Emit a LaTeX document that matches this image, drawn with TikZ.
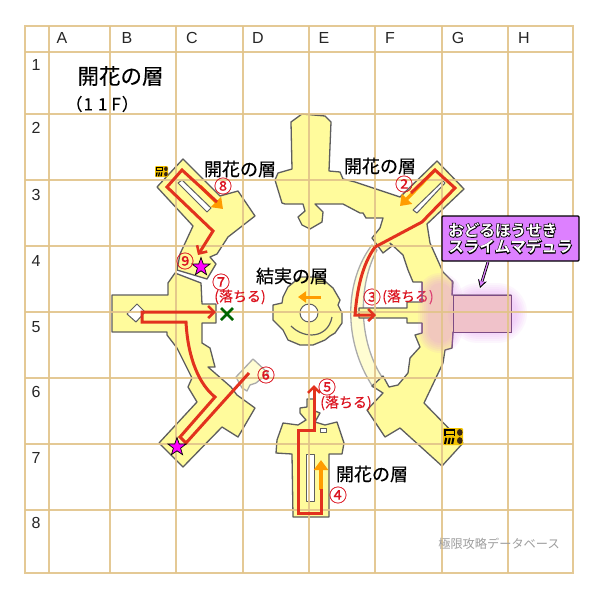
\documentclass[tikz,border=0pt]{standalone}
\usepackage{fontspec}
\setmainfont[FakeBold=0.35]{Noto Sans CJK JP}
\newfontfamily\latinf{Liberation Sans}
\newfontfamily\lightface{Noto Sans CJK JP}
\newfontfamily\heavyface{Noto Sans CJK JP Bold}
\newfontfamily\haloface[FakeBold=9]{Noto Sans CJK JP Bold}
\usetikzlibrary{arrows.meta,shapes.geometric}
\definecolor{gridc}{HTML}{E2C48A}
\definecolor{roomc}{HTML}{FFFB9C}
\definecolor{edgec}{HTML}{5E5E5E}
\definecolor{redc}{HTML}{E2321E}
\definecolor{labelred}{HTML}{DC1420}
\definecolor{orangec}{HTML}{FF9C00}
\definecolor{glowc}{HTML}{E288F0}
\definecolor{pinkc}{HTML}{F0C2CA}
\definecolor{calloutc}{HTML}{DD80FF}
\definecolor{goldc}{HTML}{F2C200}
\definecolor{starc}{HTML}{FF00FF}
\tikzset{
  room/.style={fill=roomc,draw=edgec,line width=1.3pt,line join=round},
  faded/.style={fill=roomc!45,draw=black!33,line width=1.3pt,line join=round},
  slit/.style={fill=white,draw=edgec,line width=1pt,line join=round},
  gridline/.style={gridc,line width=1.8pt,opacity=.9},
  route/.style={redc,line width=3pt,line join=miter},
  routearrow/.style={route,-{Straight Barb[length=6pt,width=12pt,line width=2.6pt]}},
  flow/.style={orangec,line width=3.4pt,-{Triangle[length=10pt,width=14pt]}},
  floorlabel/.style={font=\fontsize{18}{18}\selectfont,inner sep=0},
  numlabel/.style={text=labelred,font=\fontsize{18}{18}\selectfont,inner sep=0},
  falllabel/.style={text=labelred,font=\fontsize{14}{14}\selectfont,inner sep=0},
  gridlabel/.style={font=\latinf\fontsize{16}{16}\selectfont,text=black!85,inner sep=0},
  starmark/.style={star,star points=5,star point ratio=2.5,draw=black,fill=starc,line width=.7pt,minimum size=19pt,inner sep=0},
}
\newcommand{\chestmark}[5]{% x y w h name
  \begin{scope}[shift={(#1,#2)},x=#3pt,y=#4pt]
    \fill[goldc,rounded corners=1pt] (0,0) rectangle (1,1);
    \foreach \sx in {.1,.28,.46}{\draw[black,line width=#3*.1pt] (\sx,.06) -- (\sx+.06,.42);}
    \draw[black,line width=#3*.08pt] (.1,.55) -- (.1,.9) -- (.58,.9) -- (.58,.55) (.1,.62) -- (.58,.62);
    \fill[black!70!brown] (.84,.26) ellipse (.14 and .2) (.84,.74) ellipse (.14 and .2);
  \end{scope}}
\begin{document}
\begin{tikzpicture}[x=1pt,y=-1pt]
\useasboundingbox (0,0) rectangle (600,600);
\fill[white] (0,0) rectangle (600,600);

% pale bridge on the east side
\path[faded] (372,245) .. controls (345,280) and (342,340) .. (373,387)
  -- (382,377) .. controls (358,340) and (358,285) .. (377,250) -- cycle;

% north / east room
\path[room] (302,114)--(325,116)--(331,122)--(329,171)--(340,172)--(343,179)--(355,182)--(373,188)--(400,197)--(437,161)--(464,189)--(427,224)--(430,243)--(443,272)--(453,282)--(452,295)--(511,295)--(511,332)--(453,332)--(452,348)--(445,350)--(443,363)--(424,403)--(463,443)--(442,466)--(400,428)--(385,437)--(367,410)--(383,393)--(372,386)--(383,376)--(389,387)--(398,385)--(408,373)--(410,358)--(420,347)--(415,335)--(422,333)--(422,323)--(407,323)--(407,318)--(359,318)--(359,308)--(407,308)--(407,302)--(422,302)--(422,282)--(413,282)--(408,270)--(403,255)--(390,243)--(392,246)--(383,253)--(372,238)--(380,228)--(383,218)--(366,218)--(363,213)--(360,213)--(343,204)--(315,204)--(323,212)--(322,222)--(310,229)--(302,225)--(298,217)--(305,211)--(303,204)--(285,204)--(282,203)--(275,180)--(278,173)--(292,169)--(291,122)--cycle;
\path[slit] (413,210)--(443,181)--(445,183)--(417,213)--cycle;

% north-west wing
\path[room] (183,159)--(220,196)--(238,191)--(255,216)--(228,237)--(217,254)--(210,257)--(216,264)--(207,279)--(177,270)--(180,254)--(193,226)--(157,187)--cycle;
\path[slit] (178,183)--(182,180)--(211,208)--(207,212)--cycle;

% west wing
\path[room] (112,295)--(168,295)--(168,283)--(175,273)--(201,283)--(202,304)--(209,304)--(216,304)--(216,323)--(202,323)--(202,343)--(210,348)--(215,367)--(208,367)--(231,387)--(237,395)--(255,408)--(238,437)--(222,427)--(183,467)--(159,443)--(197,402)--(188,387)--(192,378)--(177,348)--(167,335)--(167,332)--(112,332)--cycle;
\path[slit] (127,314)--(137,304)--(145,312)--(136,322)--cycle;
\path[faded] (236,377)--(253,359)--(268,373)--(256,383)--(250,385)--(247,391)--(242,388)--cycle;

% centre room
\path[room] (283,297)--(288,287)--(300,277)--(320,277)--(333,288)--(340,300)--(338,305)--(342,313)--(342,323)--(335,333)--(330,336)--(325,340)--(313,345)--(300,345)--(288,340)--(283,330)--(278,325)--(273,320)--(273,305)--(282,303)--cycle;
\path[slit] (309,313) circle (9);
\draw[edgec,line width=1.2pt] (291,326) .. controls (305,340) and (328,338) .. (332,317);

% south room
\path[room] (307,399)--(315,399)--(315,411)--(320,413)--(315,422)--(325,425)--(337,422)--(344,443)--(342,454)--(329,454)--(329,517)--(293,517)--(292,454)--(276,453)--(277,440)--(283,423)--(298,425)--(306,420)--(300,413)--(300,408)--(307,407)--cycle;
\path[slit] (320,428) rectangle (326,432);
\path[slit] (306,454) rectangle (314,501);

% labels that lie under the glow
\node[numlabel] (n3) at (372,297) {③};
\node[falllabel] (f3) at (408,297) {(落ちる)};

% glow of the boss room
\foreach \w in {24,28,32,36,40,44}{
  \draw[glowc,opacity=.085,line width=\w pt,line cap=round,line join=round] (440,295)--(440,331);
  \draw[glowc,opacity=.07,line width=\w pt+16pt,line cap=round] (478,313)--(497,313);
}
\path[draw=black!45!glowc,fill=pinkc,line width=1pt] (453,295) rectangle (511,332);
\draw[black!40!glowc,line width=1pt] (452,280)--(452,295) (453,332)--(452,348) (422,302)--(422,282) (422,323)--(422,333);

% grid
\draw[gridline] (25,26) rectangle (573,573);
\foreach \gx in {49,110,176,243,309,375,442,508}{\draw[gridline] (\gx,26) -- (\gx,573);}
\foreach \gy in {52,114,180,246,312,378,444,510}{\draw[gridline] (25,\gy) -- (573,\gy);}
\foreach \lab/\px in {A/62,B/127,C/192,D/258,E/324,F/390,G/458,H/524}{\node[gridlabel] at (\px,38) {\lab};}
\foreach \lab/\py in {1/65,2/128,3/195,4/261,5/327,6/392,7/458,8/523}{\node[gridlabel] at (36,\py) {\lab};}

% flow arrows
\draw[flow] (200,186) -- (223,209);
\draw[flow] (435,170) -- (400,206);
\draw[flow] (321,490) -- (321,460);
\draw[orangec,line width=3pt,-{Triangle[length=8pt,width=11pt]}] (321,297) -- (298,297);

% routes
\draw[routearrow] (217,202) -- (182,170) -- (167,187) -- (213,231) -- (198,255);
\draw[route] (411,193) -- (435,170) -- (455,188) -- (422,222) -- (375,247);
\draw[routearrow] (375,247) .. controls (362,265) and (357,290) .. (355,315) -- (376,315);
\draw[routearrow] (321,489) -- (321,513) -- (298,513) -- (298,430) -- (314,430) -- (314,385);
\draw[routearrow] (249,373) -- (186,443) -- (180,437) -- (215,397) .. controls (200,385) and (188,360) .. (186,322) -- (142,322) -- (142,312) -- (216,312);

% marks
\node[starmark] (s1) at (201,267) {};
\node[starmark] (s2) at (177,447) {};
\draw[green!40!black,line width=2.6pt] (221,308) -- (233,320) (233,308) -- (221,320);
\chestmark{155}{177}{13}{11}{c1}
\chestmark{443}{445}{20}{17}{c2}

% texts
\node[inner sep=0,font=\fontsize{21.5}{21.5}\selectfont] (title) at (120.5,76) {開花の層};
\node[inner sep=0,anchor=east,font=\fontsize{17}{17}\selectfont] (floor) at (139,104) {（\kern1pt 1\kern5pt 1\kern4pt F\kern1pt）};
\node[floorlabel] (fl1) at (240,169) {開花の層};
\node[floorlabel] (fl2) at (380,166) {開花の層};
\node[floorlabel] (fl3) at (372,474) {開花の層};
\node[floorlabel] (fl4) at (292,276) {結実の層};
\node[numlabel] (n2) at (404,184) {②};
\node[numlabel] (n4) at (338,495) {④};
\node[numlabel] (n5) at (327,387) {⑤};
\node[numlabel] (n6) at (266,375) {⑥};
\node[numlabel] (n7) at (221,282) {⑦};
\node[numlabel] (n8) at (223,186) {⑧};
\node[numlabel] (n9) at (185,261) {⑨};
\node[falllabel] (f7) at (240,297) {(落ちる)};
\node[falllabel] (f5) at (346,403) {(落ちる)};
\node[inner sep=0,text=black!38,font=\lightface\fontsize{12.2}{12.2}\selectfont] (wm) at (499,544) {極限攻略データベース};

% callout
\node[draw=black,fill=calloutc,line width=1.3pt,minimum width=137pt,minimum height=45pt,rounded corners=1pt,inner sep=0] (box) at (510.5,238.5) {};
\coordinate (tipp) at (480,288);
\draw[white,line width=3.5pt] (488,262) -- (tipp);
\draw[black,line width=2.8pt,-{Stealth[length=8pt,width=9pt]}] (488,262) -- (tipp);
\draw[calloutc,line width=1.2pt,-{Stealth[length=6pt,width=6.5pt]}] (488,262) -- (480.5,286);
\node[inner sep=0,align=left,text=black,font=\haloface\fontsize{15.6}{16.5}\selectfont] (bhalo) at (box.center) {おどるほうせき\\スライムマデュラ};
\node[inner sep=0,align=left,text=white,font=\heavyface\fontsize{15.6}{16.5}\selectfont] (btext) at (box.center) {おどるほうせき\\スライムマデュラ};
\end{tikzpicture}
\end{document}
